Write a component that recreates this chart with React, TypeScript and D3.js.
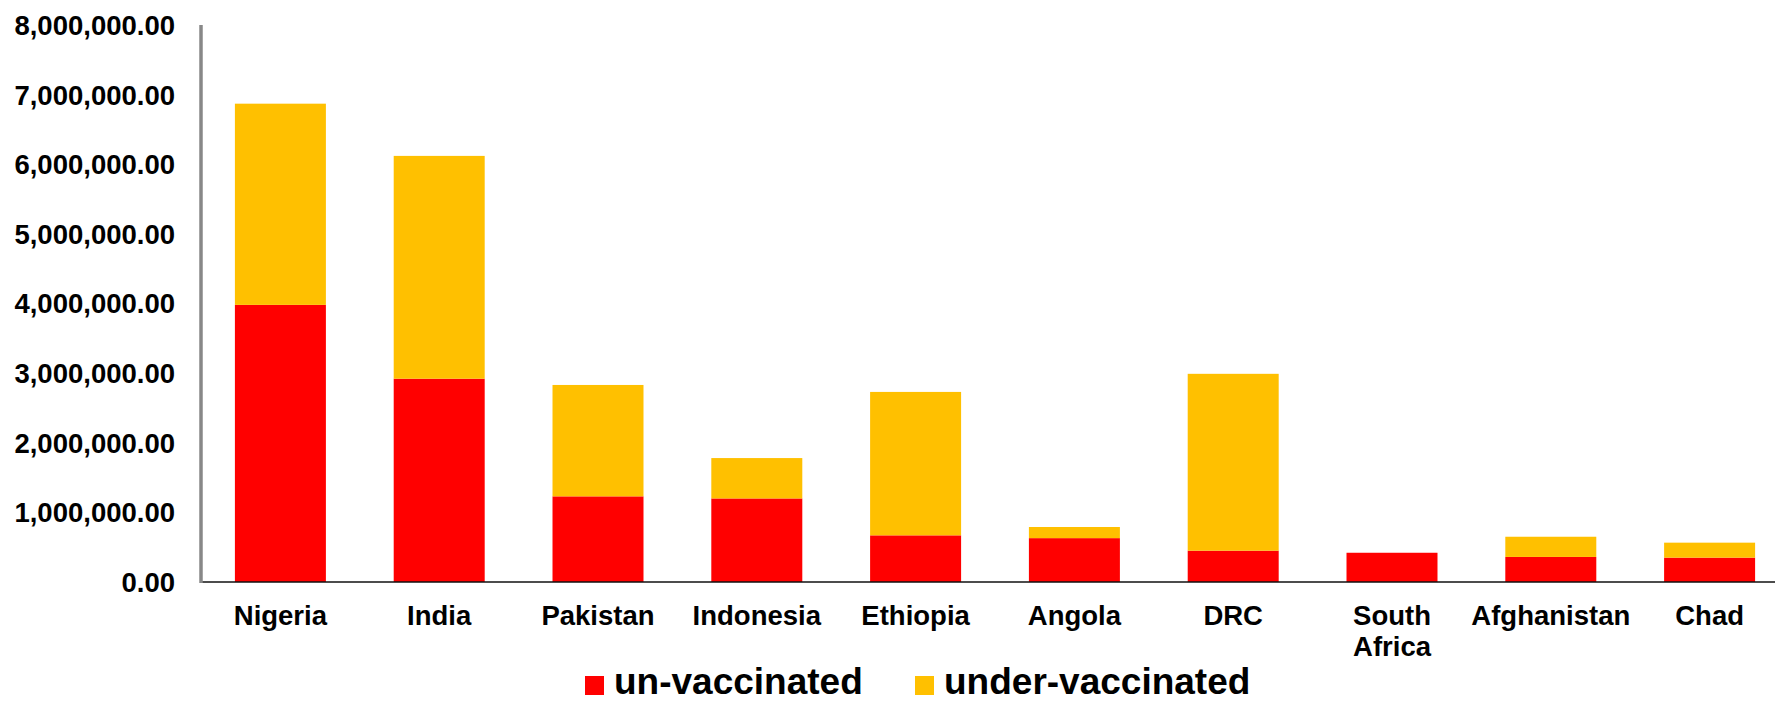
import React from "react";
import * as d3 from "d3";

const categories = ["Nigeria", "India", "Pakistan", "Indonesia", "Ethiopia", "Angola", "DRC", "South Africa", "Afghanistan", "Chad"];
const unVaccinated = [3980000, 2920000, 1230000, 1200000, 670000, 630000, 450000, 420000, 360000, 350000];
const underVaccinated = [2890000, 3200000, 1600000, 580000, 2060000, 160000, 2540000, 0, 290000, 215000];
const yTicks = [0, 1000000, 2000000, 3000000, 4000000, 5000000, 6000000, 7000000, 8000000];
const seriesNames = ["un-vaccinated", "under-vaccinated"];
const seriesColors = ["#FF0000", "#FFC000"];

const W = 1775;
const H = 703;
const FONT = "'Liberation Sans', Arial, sans-serif";

export default function App() {
  const x = d3.scaleBand<string>().domain(categories).range([201, 1789]).paddingInner(0.427).paddingOuter(0.2135);
  const y = d3.scaleLinear().domain([0, 8000000]).range([582, 25]);
  const fmt = d3.format(",.2f");

  const rows = categories.map((c, i) => ({ c, un: unVaccinated[i], under: underVaccinated[i] }));
  const stack = d3.stack<any>().keys(["un", "under"])(rows);

  return (
    <svg width={W} height={H} style={{ position: "absolute", left: 0, top: 0, background: "#fff" }} fontFamily={FONT}>
      {stack.map((layer, si) => (
        <g key={si} fill={seriesColors[si]}>
          {layer.map((d, i) => {
            const h = y(d[0]) - y(d[1]);
            if (h <= 0) return null;
            return <rect key={i} x={x(categories[i])} y={y(d[1])} width={x.bandwidth()} height={h} />;
          })}
        </g>
      ))}
      <line x1={201} x2={W} y1={y(0)} y2={y(0)} stroke="#111" strokeWidth={1.5} />
      <line x1={201} x2={201} y1={y(8000000)} y2={y(0) + 1} stroke="#888" strokeWidth={3.5} />
      {yTicks.map((t) => (
        <text key={t} x={175} y={y(t)} dy="0.36em" textAnchor="end" fontSize={27.5} fontWeight="bold" fill="#000">
          {fmt(t)}
        </text>
      ))}
      {categories.map((c) => {
        const words = c === "South Africa" ? ["South", "Africa"] : [c];
        return (
          <text key={c} textAnchor="middle" fontSize={27.5} fontWeight="bold" fill="#000">
            {words.map((w, wi) => (
              <tspan key={wi} x={(x(c) as number) + x.bandwidth() / 2} y={625 + wi * 31}>
                {w}
              </tspan>
            ))}
          </text>
        );
      })}
      {seriesNames.map((s, i) => {
        const lx = [585, 915][i];
        return (
          <g key={s}>
            <rect x={lx} y={676} width={19} height={19} fill={seriesColors[i]} />
            <text x={lx + 29} y={694} fontSize={37} fontWeight="bold" fill="#000">
              {s}
            </text>
          </g>
        );
      })}
    </svg>
  );
}
